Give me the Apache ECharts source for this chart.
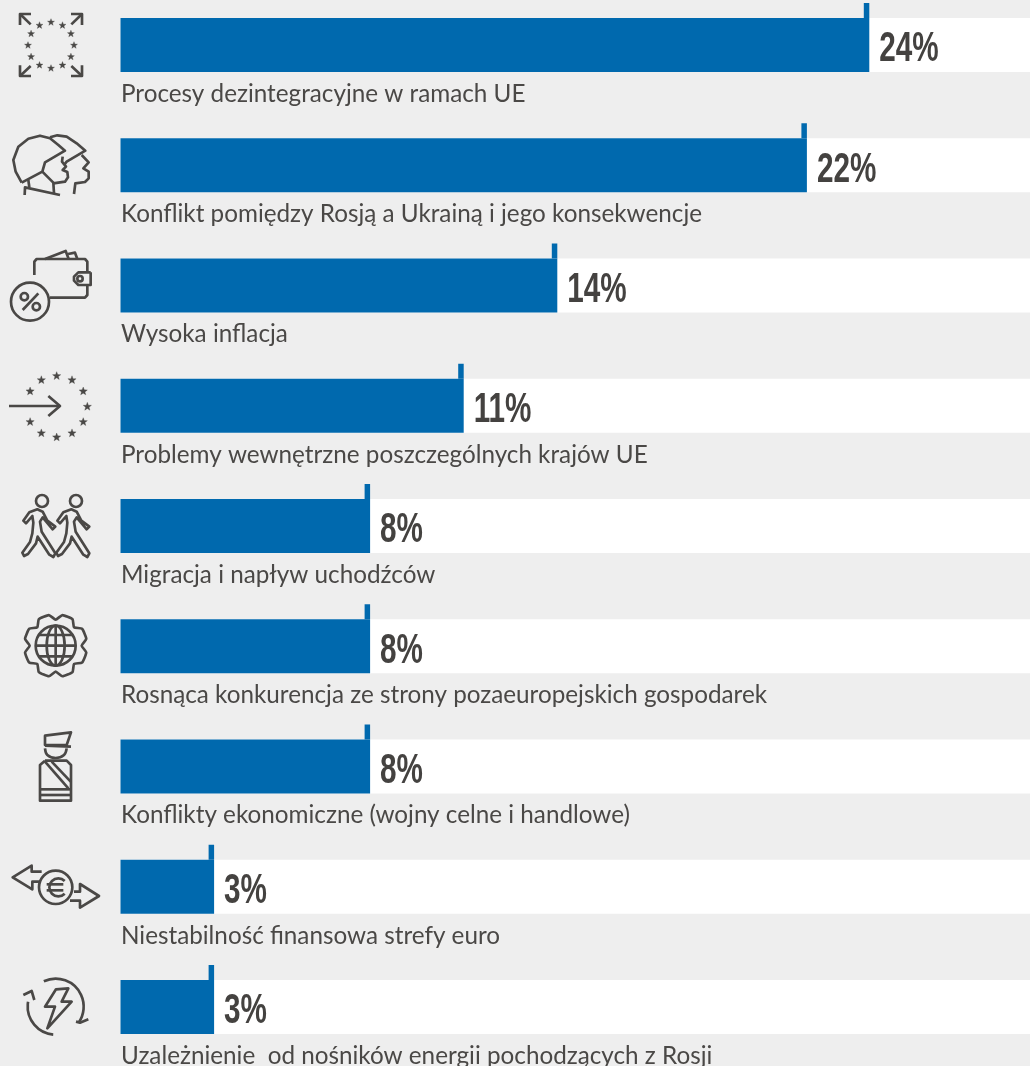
<!DOCTYPE html>
<html>
<head>
<meta charset="utf-8">
<style>html,body{margin:0;padding:0;background:#eeeeee}#chart{width:1030px;height:1066px}</style>
<script src="https://cdn.jsdelivr.net/npm/echarts@6/dist/echarts.min.js"></script>
</head>
<body>
<div id="chart"></div>
<script>
// Odpowiedzi: największe wyzwania dla UE
const categories = [
  'Procesy dezintegracyjne w ramach UE',
  'Konflikt pomiędzy Rosją a Ukrainą i jego konsekwencje',
  'Wysoka inflacja',
  'Problemy wewnętrzne poszczególnych krajów UE',
  'Migracja i napływ uchodźców',
  'Rosnąca konkurencja ze strony pozaeuropejskich gospodarek',
  'Konflikty ekonomiczne (wojny celne i handlowe)',
  'Niestabilność finansowa strefy euro',
  'Uzależnienie  od nośników energii pochodzących z Rosji'
];
const shares = [24, 22, 14, 11, 8, 8, 8, 3, 3];

const BLUE = '#0069ae', INK = '#4a4846';
const chart = echarts.init(document.getElementById('chart'));

// --- helpers for the pictograms (drawn on a 3x local grid, scaled to 1/3) ---
const ln = (points, smooth) => ({ type: 'polyline', shape: { points, smooth: smooth || 0 } });
const poly = (points, smooth) => ({ type: 'polygon', shape: { points, smooth: smooth || 0 } });
const circ = (cx, cy, r) => ({ type: 'circle', shape: { cx, cy, r } });
const arc = (cx, cy, r, startDeg, endDeg) => ({
  type: 'arc',
  shape: { cx, cy, r, startAngle: startDeg * Math.PI / 180, endAngle: endDeg * Math.PI / 180, clockwise: true }
});
function star(cx, cy, R) {
  const pts = [];
  for (let k = 0; k < 10; k++) {
    const a = -Math.PI / 2 + k * Math.PI / 5, r = k % 2 ? R * 0.42 : R;
    pts.push([cx + r * Math.cos(a), cy + r * Math.sin(a)]);
  }
  return { type: 'polygon', shape: { points: pts }, solid: true };
}
function starRing(cx, cy, r, size, skip) {
  const out = [];
  for (let k = 0; k < 12; k++) {
    if (k === skip) continue;
    const a = k * Math.PI / 6;
    out.push(star(cx + r * Math.cos(a), cy + r * Math.sin(a), size));
  }
  return out;
}
function gear(cx, cy) {
  const pts = [];
  for (let k = 0; k < 8; k++) {
    const a = (22.5 + k * 45) * Math.PI / 180, d = 10 * Math.PI / 180;
    pts.push([cx + 94 * Math.cos(a - d), cy + 94 * Math.sin(a - d)]);
    pts.push([cx + 94 * Math.cos(a + d), cy + 94 * Math.sin(a + d)]);
    const v = a + 22.5 * Math.PI / 180;
    pts.push([cx + 78 * Math.cos(v), cy + 78 * Math.sin(v)]);
  }
  return poly(pts, 0.15);
}
const walker = dx => [
  circ(126 + dx, 63, 18),
  poly([[112,88],[88,97],[70,122],[78,130],[97,108],[100,128],[97,160],[90,186],[67,218],[72,228],[84,222],[108,190],[113,170],[148,224],[160,231],[166,220],[125,155],[120,125],[128,112],[158,148],[166,140],[142,122],[128,95]].map(p => [p[0] + dx, p[1]]))
];

// Each pictogram: page offset of its 3x grid plus its shapes
const pictograms = [
  { y: 0, parts: [
    ln([[93,42],[60,42],[60,75]]), ln([[60,42],[92,73]]),
    ln([[213,42],[246,42],[246,75]]), ln([[246,42],[214,73]]),
    ln([[60,196],[60,228],[93,228]]), ln([[60,228],[92,198]]),
    ln([[246,196],[246,228],[213,228]]), ln([[246,228],[214,198]]),
    ...starRing(153, 136, 69, 11)
  ]},
  { y: 0, parts: [
    ln([[65,548],[47,515],[40,480],[55,440],[85,416],[120,407],[150,415],[175,435],[195,452],[135,487],[127,515],[65,548]]),
    ln([[85,540],[88,562]]), ln([[74,585],[75,562],[180,585]]),
    ln([[127,515],[160,548],[162,580]]),
    ln([[188,470],[186,485],[198,500],[188,510],[202,516],[204,532],[195,545],[160,550]]),
    ln([[150,412],[172,406],[200,410],[230,430],[256,452],[200,485],[192,495]]),
    ln([[245,465],[266,487],[250,505],[266,515],[266,535],[255,546],[226,550],[222,582]])
  ]},
  { y: 240, parts: [
    ln([[103,105],[103,65],[110,57],[255,57],[262,65],[262,97]]),
    ln([[262,135],[262,165],[255,173],[150,173]]),
    ln([[135,57],[197,33],[206,57]]), ln([[204,42],[225,38],[232,57]]),
    ln([[272,97],[235,97],[222,110],[222,122],[235,135],[272,135],[272,97]]),
    circ(240, 116, 8),
    circ(90, 185, 57),
    circ(73, 170, 11), circ(109, 200, 11), ln([[115,160],[68,210]])
  ]},
  { y: 240, parts: [
    ln([[27,498],[180,498]]), ln([[145,468],[180,498],[145,528]]),
    ...starRing(170, 500, 92, 13, 6)
  ]},
  { y: 480, parts: [...walker(0), ...walker(102)] },
  { y: 480, parts: [
    gear(167, 497),
    circ(167, 497, 60),
    { type: 'ellipse', shape: { cx: 167, cy: 497, rx: 27, ry: 60 } },
    ln([[167,437],[167,557]]), ln([[107,497],[227,497]]),
    ln([[116,465],[218,465]]), ln([[116,529],[218,529]])
  ]},
  { y: 480, parts: [
    poly([[135,767],[213,757],[200,795],[135,795]]),
    ln([[135,797],[213,800]]),
    ln([[135,805],[142,825],[167,834],[192,825],[200,805]], 0.4),
    ln([[135,842],[200,842],[213,855],[213,962],[120,962],[120,855],[135,842]]),
    ln([[120,928],[213,928]]), ln([[120,945],[213,945]]),
    ln([[135,845],[205,925]]), ln([[155,845],[212,905]])
  ]},
  { y: 830, parts: [
    circ(167, 172, 50),
    arc(175, 172, 27, 45, 315),
    ln([[140,163],[190,163]]), ln([[140,181],[190,181]]),
    ln([[125,125],[95,125],[95,107],[38,142],[97,178],[97,155],[118,155]]),
    ln([[222,185],[240,185],[240,162],[297,198],[240,233],[240,212],[210,212]])
  ]},
  { y: 830, parts: [
    arc(167, 530, 84, -115, 35),
    ln([[228,575],[240,578],[265,568]]),
    arc(167, 530, 84, 95, 190),
    ln([[70,495],[95,483],[103,510]]),
    poly([[168,478],[135,530],[165,530],[142,595],[215,515],[185,515],[205,475]])
  ]}
];

const graphicElements = pictograms.map(p => ({
  type: 'group',
  x: 0, y: p.y, scaleX: 1 / 3, scaleY: 1 / 3,
  silent: true,
  children: p.parts.map(part => {
    const s = part.solid;
    const out = Object.assign({}, part);
    delete out.solid;
    out.style = s
      ? { fill: INK, stroke: INK, lineWidth: 1 }
      : { fill: 'none', stroke: INK, lineWidth: 8, lineJoin: 'round' };
    return out;
  })
}));

const LEFT = 120.5, WIDTH = 909.5, PX_PER_UNIT = 31.2, ROW = 120.25, BAR_H = 54;

function renderRow(params, api) {
  const value = api.value(0), idx = api.value(1);
  const p = api.coord([value, idx]);
  const barTop = p[1] - BAR_H / 2, barBottom = p[1] + BAR_H / 2;
  return {
    type: 'group',
    children: [
      { type: 'rect', shape: { x: p[0] - 5.5, y: barTop - 15, width: 5.5, height: 15 }, style: { fill: BLUE } },
      { type: 'text', x: p[0] + 10, y: p[1] + 4.5, scaleX: 0.69,
        style: { text: value + '%', fontFamily: '"Liberation Sans"', fontWeight: 'bold', fontSize: 43, fill: '#444240', align: 'left', verticalAlign: 'middle' } },
      { type: 'text', x: LEFT + 0.5, y: barBottom + 22, scaleX: 0.99,
        style: { text: categories[idx], fontFamily: 'Lato,"Noto Sans"', fontWeight: 400, fontSize: 24.5, fill: INK, align: 'left', verticalAlign: 'middle' } }
    ]
  };
}

chart.setOption({
  animation: false,
  backgroundColor: '#eeeeee',
  graphic: { elements: graphicElements },
  grid: { left: LEFT, top: 45 - ROW / 2, width: WIDTH, height: ROW * categories.length, outerBoundsMode: 'none' },
  xAxis: { type: 'value', min: 0, max: WIDTH / PX_PER_UNIT, show: false },
  yAxis: { type: 'category', inverse: true, data: categories, show: false },
  tooltip: { show: false },
  series: [
    {
      type: 'bar',
      data: shares,
      barWidth: BAR_H,
      silent: true,
      itemStyle: { color: BLUE },
      showBackground: true,
      backgroundStyle: { color: '#ffffff' }
    },
    {
      type: 'custom',
      data: shares.map((v, i) => [v, i]),
      encode: { x: 0, y: 1 },
      silent: true,
      clip: false,
      z: 5,
      renderItem: renderRow
    }
  ]
});
</script>
</body>
</html>
